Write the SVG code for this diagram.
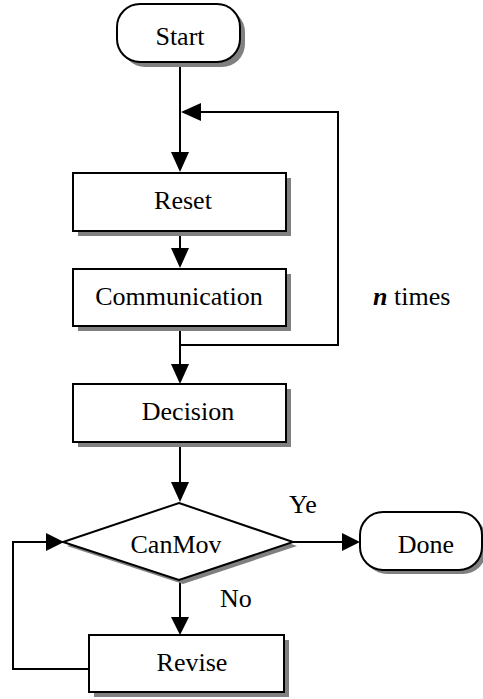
<svg xmlns="http://www.w3.org/2000/svg" width="483" height="699" viewBox="0 0 483 699">
<defs>
<style>
.sh{fill:#808080;stroke:none}
.bx{fill:#fff;stroke:#000;stroke-width:2}
.ln{fill:none;stroke:#000;stroke-width:2}
.ah{fill:#000;stroke:none}
text{font-family:"Liberation Serif","Times New Roman",serif;font-size:26px;fill:#000}
.c{text-anchor:middle}
</style>
</defs>
<rect width="483" height="699" fill="#fff"/>
<g id="connectors">
<path class="ln" d="M180,62 V154"/>
<polygon class="ah" points="171,152 189,152 180,172"/>
<path class="ln" d="M200,112 H338 V345 H180"/>
<polygon class="ah" points="181,112 201,103 201,121"/>
<path class="ln" d="M180,231 V250"/>
<polygon class="ah" points="171,248 189,248 180,268"/>
<path class="ln" d="M180,326 V366"/>
<polygon class="ah" points="171,364 189,364 180,384"/>
<path class="ln" d="M180,442 V484"/>
<polygon class="ah" points="171,482 189,482 180,502"/>
<path class="ln" d="M293,542 H344"/>
<polygon class="ah" points="342,533 342,551 360,542"/>
<path class="ln" d="M180,580 V619"/>
<polygon class="ah" points="171,617 189,617 180,635"/>
<path class="ln" d="M89,669 H13 V542 H48"/>
<polygon class="ah" points="46,533 46,551 64,542"/>
</g>
<g id="start">
<rect class="sh" x="122" y="9" width="123" height="58" rx="23"/>
<rect class="bx" x="117" y="4" width="123" height="58" rx="23"/>
<text class="c" x="180" y="45">Start</text>
</g>
<g id="reset">
<rect class="sh" x="78" y="178" width="213" height="58"/>
<rect class="bx" x="73" y="173" width="213" height="58"/>
<text class="c" x="183" y="209">Reset</text>
</g>
<g id="communication">
<rect class="sh" x="78" y="274" width="213" height="57"/>
<rect class="bx" x="73" y="269" width="213" height="57"/>
<text class="c" x="179" y="305">Communication</text>
</g>
<g id="ntimes">
<text x="373" y="305"><tspan font-weight="bold" font-style="italic">n</tspan> times</text>
</g>
<g id="decision">
<rect class="sh" x="78" y="389" width="213" height="58"/>
<rect class="bx" x="73" y="384" width="213" height="58"/>
<text class="c" x="188" y="420">Decision</text>
</g>
<g id="canmov">
<polygon class="sh" points="183,507 297,546 183,584 67,546"/>
<polygon class="bx" points="179,503 293,542 179,580 63,542"/>
<text class="c" x="176" y="553">CanMov</text>
</g>
<g id="yes">
<text x="289" y="513">Ye</text>
</g>
<g id="done">
<rect class="sh" x="364" y="516" width="122" height="58" rx="23"/>
<rect class="bx" x="360" y="512" width="122" height="58" rx="23"/>
<text class="c" x="426" y="553">Done</text>
</g>
<g id="no">
<text x="220" y="607">No</text>
</g>
<g id="revise">
<rect class="sh" x="94" y="640" width="195" height="57"/>
<rect class="bx" x="89" y="635" width="195" height="57"/>
<text class="c" x="192" y="671">Revise</text>
</g>
</svg>
